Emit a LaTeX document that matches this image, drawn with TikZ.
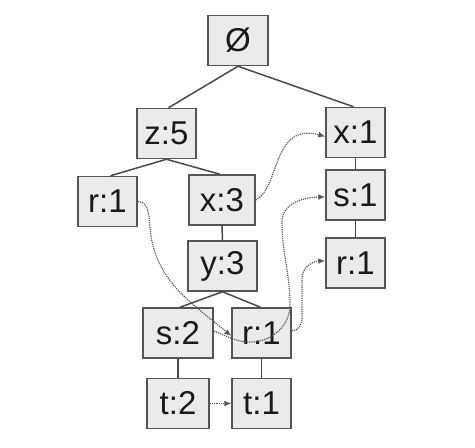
\documentclass[tikz,border=0pt]{standalone}
\usepackage{fontspec}
\setmainfont{Liberation Sans}
\usetikzlibrary{arrows.meta}
\definecolor{boxfill}{HTML}{EBEBEB}
\definecolor{boxline}{HTML}{555555}
\definecolor{edgeline}{HTML}{4A4A4A}
\definecolor{linkline}{HTML}{555555}
\definecolor{txt}{HTML}{1A1A1A}
\begin{document}
\begin{tikzpicture}[x=1pt,y=-1pt,
  item/.style={draw=boxline,fill=boxfill,line width=1.5pt,minimum height=50pt,inner sep=0pt,
    text=txt,font=\fontsize{33}{33}\selectfont},
  edge/.style={draw=edgeline,line width=1.5pt},
  link/.style={draw=linkline,densely dotted,line width=1.2pt,-{Latex[length=7pt,width=6pt]}}]
\useasboundingbox (0,0) rectangle (475,448);
\node[item,minimum width=60pt] (root) at (238,40.5) {Ø};
\node[item,minimum width=59pt] (z5) at (166.5,133.5) {z:5};
\node[item,minimum width=59pt] (x1) at (355.5,132.5) {x:1};
\node[item,minimum width=59pt] (r1a) at (107.5,201.5) {r:1};
\node[item,minimum width=66pt] (x3) at (222,200) {x:3};
\node[item,minimum width=59pt] (s1) at (355.5,195) {s:1};
\node[item,minimum width=69pt] (y3) at (222.5,266) {y:3};
\node[item,minimum width=59pt] (r1b) at (355.5,263) {r:1};
\node[item,minimum width=70pt] (s2) at (178,333) {s:2};
\node[item,minimum width=59pt] (r1m) at (261.5,333) {r:1};
\node[item,minimum width=62pt] (t2) at (178,403.5) {t:2};
\node[item,minimum width=59pt] (t1) at (261.5,403.5) {t:1};
% tree edges
\draw[edge] (root.south) -- ([xshift=2pt]z5.north);
\draw[edge] (root.south) -- ([xshift=-2pt]x1.north);
\draw[edge] (z5.south) -- ([xshift=3pt]r1a.north);
\draw[edge] (z5.south) -- ([xshift=-2pt]x3.north);
\draw[edge] (x3.south) -- (y3.north);
\draw[edge] (y3.south) -- ([xshift=2pt]s2.north);
\draw[edge] (y3.south) -- ([xshift=-1pt]r1m.north);
\draw[edge] (x1.south) -- (s1.north);
\draw[edge] (s1.south) -- (r1b.north);
\draw[edge] (s2.south) -- (t2.north);
\draw[edge] (r1m.south) -- (t1.north);
% node links
\coordinate (ka) at (150,228);
\coordinate (kb) at (250,342);
\coordinate (kc) at (290,305);
\coordinate (kd) at (282,222);
\coordinate (ke) at (302,318);
\coordinate (kf) at (302,278);
\draw[link] (x3.east) .. controls (280,188) and (272,122) .. ([yshift=-4pt]x1.west);
\draw[link] (r1a.east) to[out=0,in=95] (ka) to[out=-85,in=140] ([yshift=-3pt]r1m.west);
\draw[link] ([yshift=2pt]s2.east) to[out=-20,in=180] (kb) to[out=0,in=-90] (kc) to[out=90,in=-90] (kd) to[out=90,in=180] ([yshift=-2pt]s1.west);
\draw[link] ([yshift=2pt]r1m.east) to[out=0,in=-90] (ke) -- (kf) to[out=90,in=180] ([yshift=2pt]r1b.west);
\draw[link] (t2.east) -- (t1.west);
\end{tikzpicture}
\end{document}
